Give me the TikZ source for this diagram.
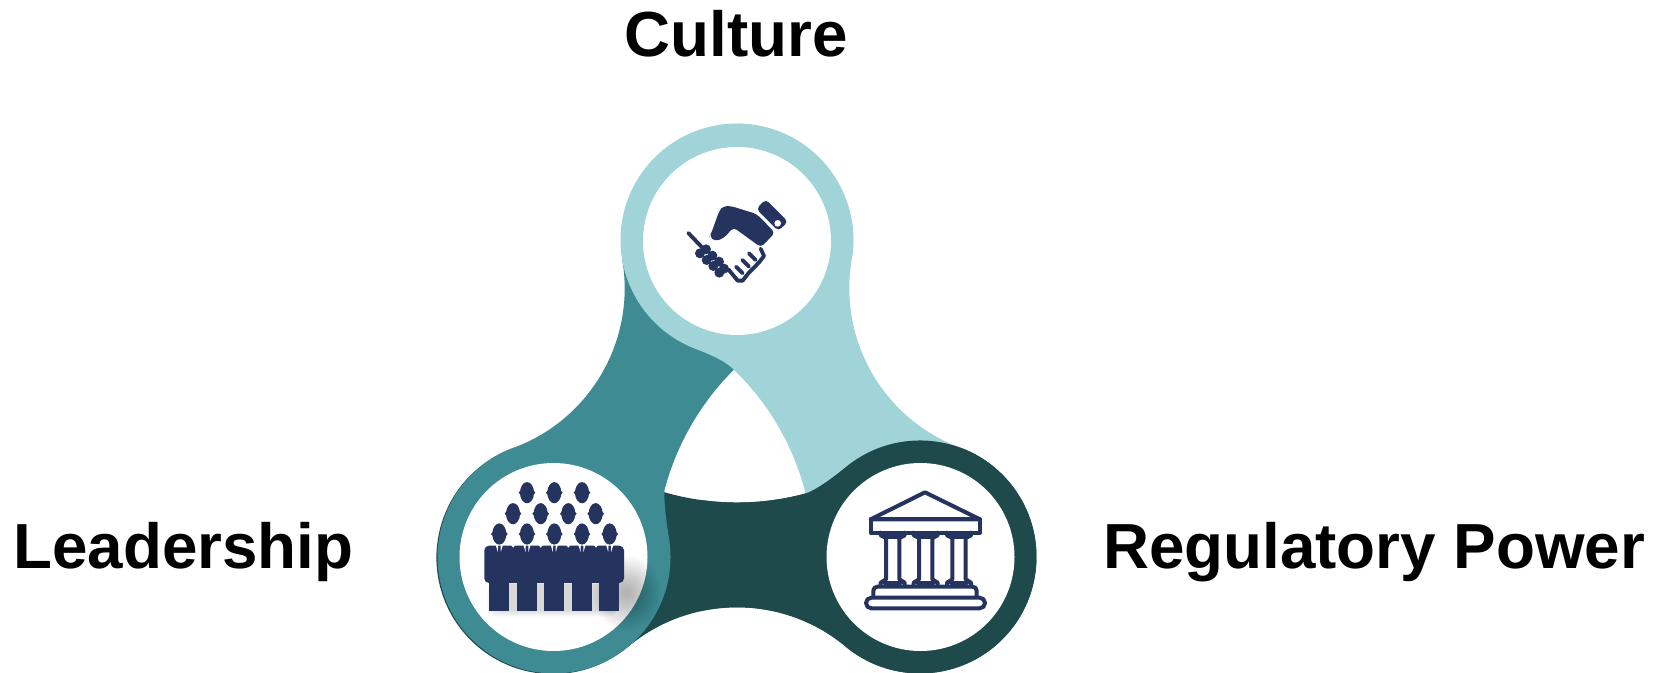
\documentclass[tikz,border=0pt]{standalone}
\usepackage{fontspec}
\setmainfont{Liberation Sans}
\definecolor{lightc}{HTML}{A0D4D8}
\definecolor{tealc}{HTML}{3E8B93}
\definecolor{darkc}{HTML}{1F4A4C}
\definecolor{navy}{HTML}{25335F}
\newcommand{\lobepath}[1]{
  ([shift={(1019.3,383.7)}]170.15:170) arc[start angle=170.15,end angle=249.85,radius=170]
  -- (870,150)
  -- ([shift={(553.5,115)}]11:#1) arc[start angle=11,end angle=45.34,radius=#1]
  .. controls (726.3,311.2) and (708.9,318) .. ([shift={(737,432)}]248.8:116.5)
  arc[start angle=248.8,end angle=-9.85,radius=116.5] -- cycle}
\newcommand{\headico}[2]{
  \fill[navy] (#1,#2) ellipse[x radius=7,y radius=10.6];
  \fill[navy] (#1-8.4,#2) .. controls (#1-7,#2-3) and (#1-5,#2-4) .. (#1,#2-4)
     .. controls (#1+5,#2-4) and (#1+7,#2-3) .. (#1+8.4,#2)
     .. controls (#1+7,#2+3) and (#1+5,#2+4) .. (#1,#2+4)
     .. controls (#1-5,#2+4) and (#1-7,#2+3) .. (#1-8.4,#2) -- cycle;}
\tikzset{
  lbl/.style={font=\fontsize{47.8pt}{50pt}\selectfont\bfseries,text=black,inner sep=0pt},
  bankline/.style={draw=navy,line width=3pt,line join=round,line cap=round},
  handline/.style={draw=navy,line width=2.9pt,line join=round,line cap=round}
}
\begin{document}
\begin{tikzpicture}[x=0.75pt,y=0.75pt]
\useasboundingbox (0,0) rectangle (1662,672);
% ribbon shapes
\fill[darkc] (552.9,114.4) circle[radius=116.5];
\begin{scope}[rotate around={-120:(737,220.7)}]\fill[darkc] \lobepath{263};\end{scope}
\begin{scope}[rotate around={120:(737,220.7)}]\fill[tealc] \lobepath{264.5};\end{scope}
\fill[lightc] \lobepath{260};
\begin{scope}
  \clip (700,0) rectangle (1662,672);
  \begin{scope}[rotate around={-120:(737,220.7)}]\fill[darkc] \lobepath{263};\end{scope}
\end{scope}
% inner discs
\fill[white] (737,431) circle[radius=94];
\fill[white] (553.5,115) circle[radius=94];
\fill[white] (920.5,115) circle[radius=94];
% soft shadow of the people
\begin{scope}
  \clip (553.5,115) circle[radius=116.5];
  \foreach \g in {24,22,...,0}{
    \fill[black,opacity=0.010,rounded corners=7pt] (494-\g*0.3,88) rectangle (618,62-\g*0.3);
  }
  \foreach \g in {34,32,...,4}{
    \fill[black,opacity=0.02] (627,79) ellipse[x radius=\g,y radius=\g*1.1];
  }
\end{scope}
% icons, written in picture coordinates (y downward)
\begin{scope}[shift={(0,672)},yscale=-1]
  % people
  \foreach \x in {527,554.3,582}{\headico{\x}{492.7}}
  \foreach \x in {513,540.7,568.3,595.7}{\headico{\x}{513.7}}
  \foreach \x in {499.3,527,554.3,582,609.7}{\headico{\x}{534}}
  \fill[navy,rounded corners=3.5pt] (484.3,583) -- (484.3,545.7) -- (624,545.7) -- (624,583) -- cycle;
  \foreach \x in {489.3,517,544.3,572,599.3}{\fill[navy] (\x,578) rectangle (\x+20,611);}
  \foreach \x in {499.3,527,554.3,582,609.7}{
    \fill[white] (\x-3.6,545) -- (\x-1.2,545) -- (\x-1.5,552) -- cycle;
    \fill[white] (\x+3.6,545) -- (\x+1.2,545) -- (\x+1.5,552) -- cycle;
  }
  \foreach \x in {513.2,540.7,568.3,596}{\fill[white] (\x-2.2,545) -- (\x+2.2,545) -- (\x,547.6) -- cycle;}
  % handshake
  \begin{scope}[shift={(600,110)},x=0.25pt,y=0.25pt]
    \fill[navy,rounded corners=3pt] (333,372) -- (358,302) -- (370,288) -- (392,288) -- (470,312) -- (525,368) -- (483,412) -- (400,352) -- (372,384) -- (345,394) -- (328,380) -- cycle;
    \fill[navy,rounded corners=3pt] (497,268) -- (564,335) -- (535,363) -- (469,297) -- cycle;
    \fill[white] (533,340) circle[radius=10];
    \draw[handline] (265,369) -- (308,414);
    \foreach \px/\py in {300/430, 320/450, 340/468, 358/488, 318/418, 337/437, 357/455, 372/476}{\fill[navy] (\px,\py) circle[radius=15];}
    \draw[handline] (385,478) -- (413,512) -- (428,512) -- (445,490) -- (463,472) -- (478,456) -- (492,438) -- (482,416);
    \draw[handline] (408,470) -- (428,490);
    \draw[handline] (427,450) -- (447,470);
    \draw[handline] (447,430) -- (467,450);
  \end{scope}
  % bank
  \begin{scope}[shift={(810,430)},x=0.25pt,y=0.25pt]
    \draw[bankline] (182,268) -- (345,187) -- (510,268) -- cycle;
    \draw[bankline] (182,268) rectangle (510,308);
    \foreach \c in {248,347,447}{
      \draw[bankline] (\c-36,308) -- (\c-36,316) -- (\c-20,324) -- (\c-20,448) -- (\c-36,458) -- (\c-36,468);
      \draw[bankline] (\c+36,308) -- (\c+36,316) -- (\c+20,324) -- (\c+20,448) -- (\c+36,458) -- (\c+36,468);
      \draw[bankline] (\c-24,320) -- (\c+24,320);
      \draw[bankline] (\c-24,458) -- (\c+24,458);
    }
    \draw[bankline,rounded corners=3pt] (190,500) -- (190,470) -- (500,470) -- (500,500);
    \draw[bankline,rounded corners=4pt] (168,503) rectangle (525,535);
  \end{scope}
\end{scope}
% labels
\node[lbl,anchor=base] (culture) at (736,615.5) {Culture};
\node[lbl,anchor=base west] (leadership) at (13,104) {Leadership};
\node[lbl,anchor=base west] (regulatory) at (1103,104) {Regulatory Power};
\end{tikzpicture}
\end{document}
